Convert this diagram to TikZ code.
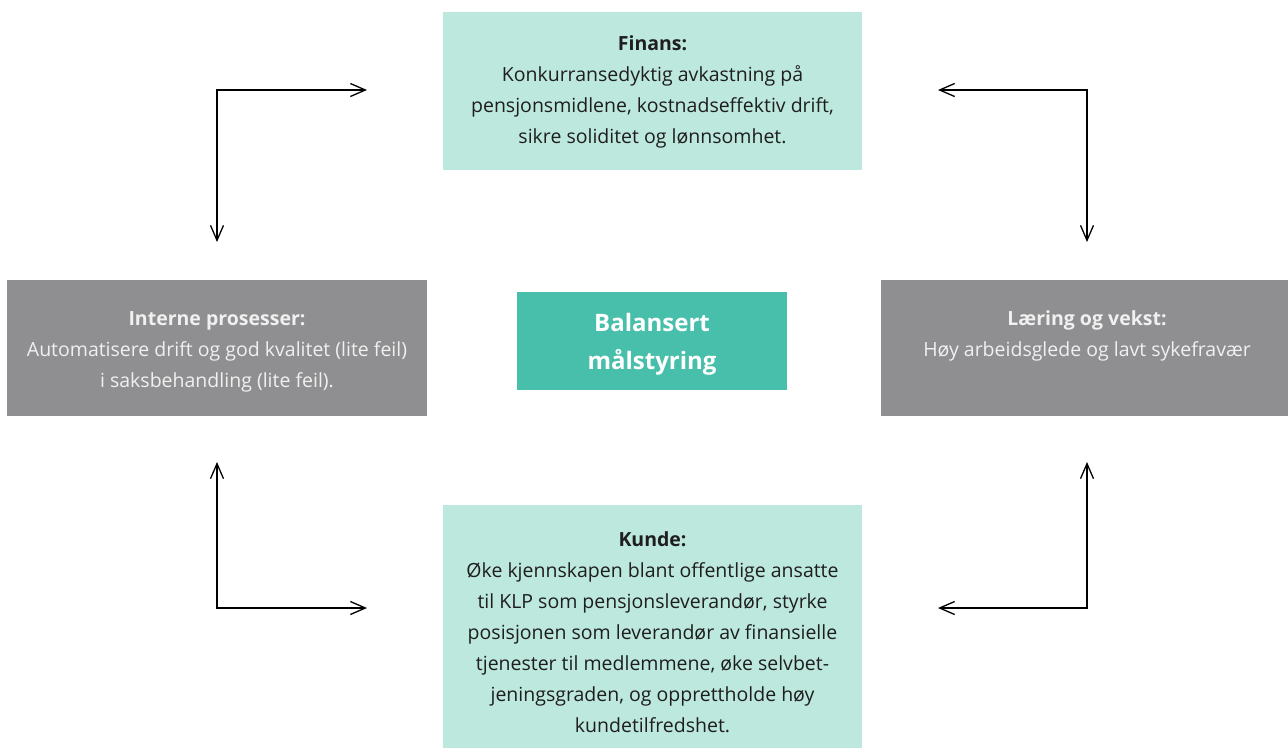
\documentclass[tikz,border=0pt]{standalone}
\usepackage{fontspec}
\setmainfont{Open Sans}
\usetikzlibrary{arrows.meta}
\definecolor{mint}{HTML}{BDE8DD}
\definecolor{teal}{HTML}{48BFAA}
\definecolor{boxgray}{HTML}{8F8F91}
\definecolor{txtdark}{HTML}{1E1E1E}
\begin{document}
\begin{tikzpicture}[x=1pt,y=-1pt,
  lightbox/.style={fill=mint,text=txtdark,inner sep=0pt,align=center,font=\fontsize{19.5}{31}\selectfont},
  graybox/.style={fill=boxgray,text=white!94!black,inner sep=0pt,align=center,font=\fontsize{19.5}{31}\selectfont},
  centerbox/.style={fill=teal,text=white,inner sep=0pt,align=center,font=\fontsize{24}{38}\selectfont},
  conn/.style={draw=black,line width=1.3pt,{Straight Barb[length=15pt,width=13pt]}-{Straight Barb[length=15pt,width=13pt]}}
]
\useasboundingbox (0,0) rectangle (1288,748);
% boxes
\path[fill=mint] (443,12) rectangle (862,170);
\node[lightbox] (fin) at (652.5,92) {\textbf{Finans:}\\Konkurransedyktig avkastning på\\pensjonsmidlene, kostnadseffektiv drift,\\sikre soliditet og lønnsomhet.};
\path[fill=boxgray] (7,280) rectangle (427,416);
\node[graybox] (int) at (217,352) {\textbf{Interne prosesser:}\\Automatisere drift og god kvalitet (lite feil)\\i saksbehandling (lite feil).};
\path[fill=boxgray] (881,280) rectangle (1288,416);
\node[graybox] (lar) at (1087,336) {\textbf{Læring og vekst:}\\Høy arbeidsglede og lavt sykefravær};
\path[fill=teal] (517,292) rectangle (787,390);
\node[centerbox,font=\fontsize{24}{38}\selectfont\bfseries] (bal) at (652,344) {Balansert\\målstyring};
\path[fill=mint] (443,505) rectangle (862,748);
\node[lightbox] (kun) at (652.5,632) {\textbf{Kunde:}\\Øke kjennskapen blant offentlige ansatte\\til KLP som pensjonsleverandør, styrke\\posisjonen som leverandør av finansielle\\tjenester til medlemmene, øke selvbet-\\jeningsgraden, og opprettholde høy\\kundetilfredshet.};
% connector end points
\coordinate (a1) at (217,242); \coordinate (a2) at (367,90);
\coordinate (b1) at (938,90);  \coordinate (b2) at (1087,242);
\coordinate (c1) at (217,462); \coordinate (c2) at (367,608);
\coordinate (d1) at (1087,462);\coordinate (d2) at (938,608);
\draw[conn] (a1) |- (a2);
\draw[conn] (b1) -| (b2);
\draw[conn] (c1) |- (c2);
\draw[conn] (d1) |- (d2);
\end{tikzpicture}
\end{document}
